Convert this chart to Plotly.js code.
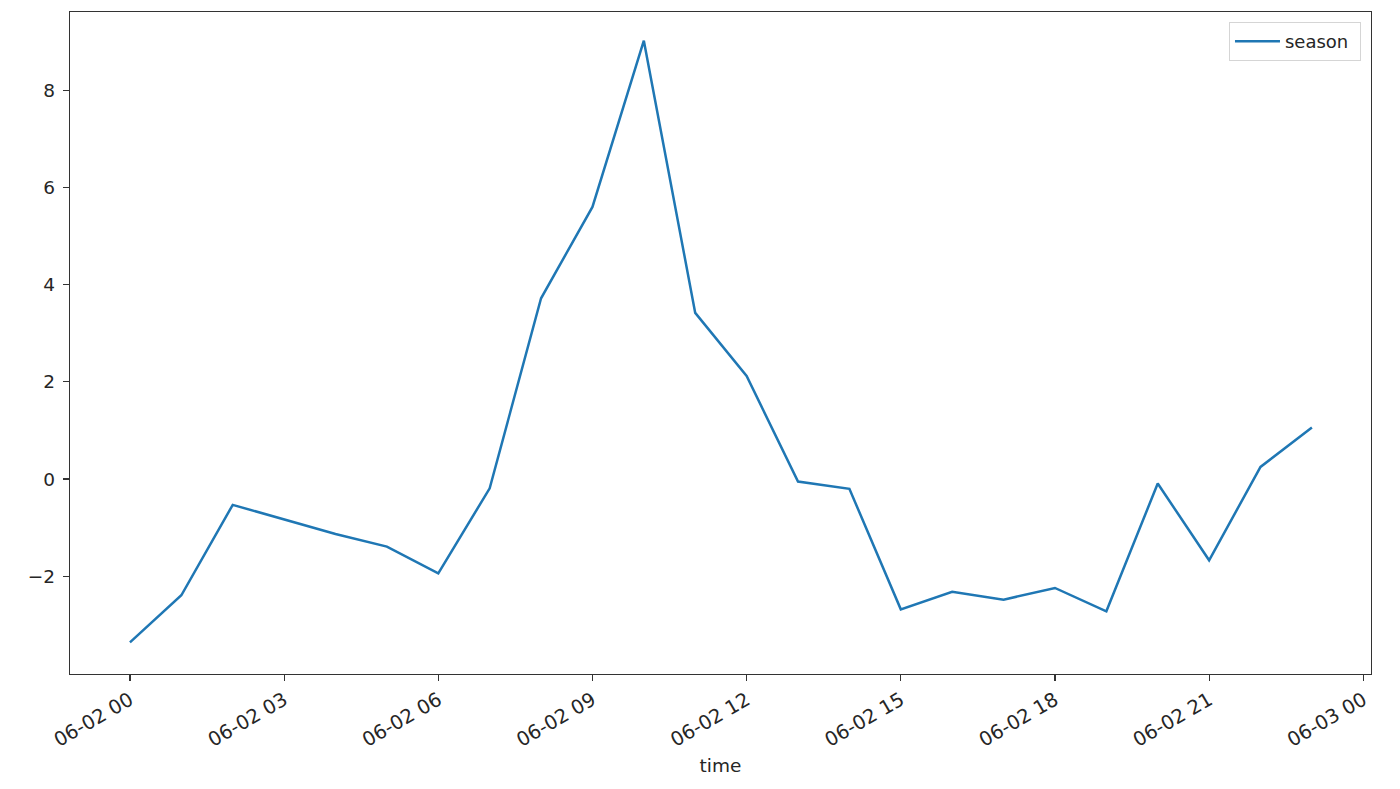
<!DOCTYPE html>
<html>
<head>
<meta charset="utf-8">
<script src="https://cdn.plot.ly/plotly-3.0.1.min.js"></script>
<style>html,body{margin:0;padding:0;background:#fff;}#chart{width:1400px;height:789px;}</style>
</head>
<body>
<div id="chart"></div>
<script>
const times = [
  "2021-06-02 00:00","2021-06-02 01:00","2021-06-02 02:00","2021-06-02 03:00",
  "2021-06-02 04:00","2021-06-02 05:00","2021-06-02 06:00","2021-06-02 07:00",
  "2021-06-02 08:00","2021-06-02 09:00","2021-06-02 10:00","2021-06-02 11:00",
  "2021-06-02 12:00","2021-06-02 13:00","2021-06-02 14:00","2021-06-02 15:00",
  "2021-06-02 16:00","2021-06-02 17:00","2021-06-02 18:00","2021-06-02 19:00",
  "2021-06-02 20:00","2021-06-02 21:00","2021-06-02 22:00","2021-06-02 23:00"
];
const season = [
  -3.36, -2.39, -0.53, -0.83, -1.13, -1.39, -1.94, -0.19,
  3.72, 5.60, 9.02, 3.42, 2.12, -0.05, -0.20, -2.68,
  -2.32, -2.48, -2.24, -2.72, -0.09, -1.67, 0.25, 1.06
];
const yTicks = [-2, 0, 2, 4, 6, 8];
const yTickText = ["\u22122", "0", "2", "4", "6", "8"];

const trace = {
  x: times, y: season, type: "scatter", mode: "lines", name: "season\u00a0",
  line: {color: "#1f77b4", width: 2.5}
};
const layout = {
  width: 1400, height: 789,
  margin: {l: 70, r: 29, t: 12, b: 115},
  paper_bgcolor: "#fff", plot_bgcolor: "#fff",
  font: {family: "DejaVu Sans", size: 18.5, color: "#262626"},
  showlegend: true,
  legend: {x: 0.9923, y: 0.985, xanchor: "right", yanchor: "top",
           bordercolor: "#d5d5d5", borderwidth: 1, bgcolor: "#fff",
           itemwidth: 45,
           font: {size: 18, color: "#262626"}},
  xaxis: {
    type: "date", automargin: false,
    range: ["2021-06-01 22:50", "2021-06-03 00:09"],
    tick0: "2021-06-02 00:00", dtick: 10800000,
    tickformat: "%m-%d %H", tickangle: -30,
    tickfont: {size: 19.5, color: "#262626"},
    ticks: "outside", ticklen: 6, tickcolor: "#333", tickwidth: 1.2,
    showgrid: false, zeroline: false,
    showline: true, linecolor: "#333", linewidth: 1.3, mirror: true,
    title: {text: "time", font: {size: 18.5, color: "#262626"}, standoff: 8}
  },
  yaxis: {
    automargin: false,
    range: [-4.01, 9.61],
    tickvals: yTicks, ticktext: yTickText,
    ticks: "outside", ticklen: 6, tickcolor: "#333", tickwidth: 1.2,
    ticklabelstandoff: 4,
    showgrid: false, zeroline: false,
    showline: true, linecolor: "#333", linewidth: 1.3, mirror: true
  }
};
Plotly.newPlot("chart", [trace], layout, {displayModeBar: false, staticPlot: true});
</script>
</body>
</html>
